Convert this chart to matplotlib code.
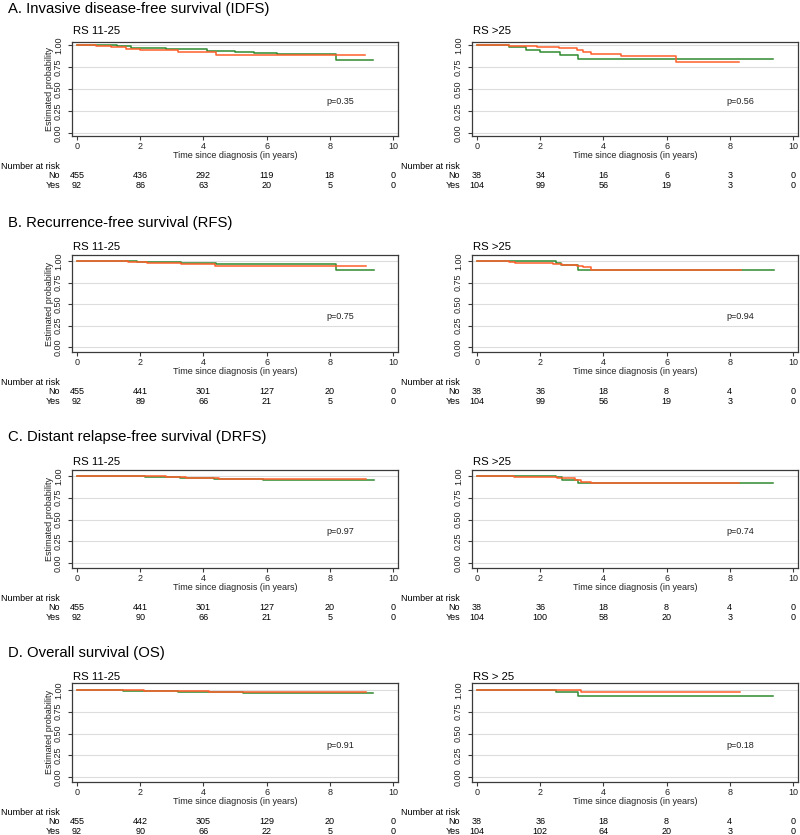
import matplotlib
matplotlib.use('Agg')
import matplotlib.pyplot as plt
from matplotlib.transforms import blended_transform_factory

plt.rcParams['font.family'] = ['Liberation Sans', 'DejaVu Sans']

# ---- data (green = No, orange = Yes) ----
risk_years = [0, 2, 4, 6, 8, 10]

# A. IDFS
idfs_lo_no_t = [0, 0.6, 1.25, 1.7, 2.8, 3.2, 4.1, 5.0, 5.6, 6.33, 8.2, 9.38]
idfs_lo_no_s = [1, 0.995, 0.985, 0.97, 0.96, 0.95, 0.935, 0.922, 0.912, 0.9, 0.835, 0.835]
idfs_lo_yes_t = [0, 0.6, 1.07, 1.55, 2.0, 3.2, 4.4, 9.13]
idfs_lo_yes_s = [1, 0.99, 0.982, 0.96, 0.948, 0.92, 0.89, 0.89]
idfs_lo_risk_no = [455, 436, 292, 119, 18, 0]
idfs_lo_risk_yes = [92, 86, 63, 20, 5, 0]
idfs_lo_p = 'p=0.35'

idfs_hi_no_t = [0, 1.02, 1.54, 2.0, 2.64, 3.18, 9.38]
idfs_hi_no_s = [1, 0.972, 0.945, 0.915, 0.89, 0.845, 0.845]
idfs_hi_yes_t = [0, 1.02, 1.9, 2.6, 3.15, 3.35, 3.6, 4.55, 6.3, 8.3]
idfs_hi_yes_s = [1, 0.985, 0.975, 0.962, 0.945, 0.925, 0.895, 0.875, 0.81, 0.81]
idfs_hi_risk_no = [38, 34, 16, 6, 3, 0]
idfs_hi_risk_yes = [104, 99, 56, 19, 3, 0]
idfs_hi_p = 'p=0.56'

# B. RFS
rfs_lo_no_t = [0, 1.9, 3.3, 4.4, 5.0, 8.2, 9.4]
rfs_lo_no_s = [1, 0.988, 0.98, 0.97, 0.96, 0.89, 0.89]
rfs_lo_yes_t = [0, 1.6, 2.2, 3.3, 4.37, 9.15]
rfs_lo_yes_s = [1, 0.988, 0.98, 0.969, 0.945, 0.945]
rfs_lo_risk_no = [455, 441, 301, 127, 20, 0]
rfs_lo_risk_yes = [92, 89, 66, 21, 5, 0]
rfs_lo_p = 'p=0.75'

rfs_hi_no_t = [0, 2.5, 2.65, 3.2, 9.4]
rfs_hi_no_s = [1, 0.98, 0.955, 0.9, 0.9]
rfs_hi_yes_t = [0, 1.0, 1.2, 2.4, 2.7, 3.15, 3.35, 3.6, 8.35]
rfs_hi_yes_s = [1, 0.988, 0.98, 0.965, 0.955, 0.945, 0.925, 0.9, 0.9]
rfs_hi_risk_no = [38, 36, 18, 8, 4, 0]
rfs_hi_risk_yes = [104, 99, 56, 19, 3, 0]
rfs_hi_p = 'p=0.94'

# C. DRFS
drfs_lo_no_t = [0, 2.15, 3.25, 4.35, 5.9, 9.4]
drfs_lo_no_s = [1, 0.985, 0.975, 0.965, 0.955, 0.955]
drfs_lo_yes_t = [0, 2.15, 2.8, 3.45, 4.5, 9.15]
drfs_lo_yes_s = [1, 0.995, 0.985, 0.975, 0.965, 0.965]
drfs_lo_risk_no = [455, 441, 301, 127, 20, 0]
drfs_lo_risk_yes = [92, 90, 66, 21, 5, 0]
drfs_lo_p = 'p=0.97'

drfs_hi_no_t = [0, 2.5, 2.68, 3.2, 9.38]
drfs_hi_no_s = [1, 0.985, 0.955, 0.915, 0.915]
drfs_hi_yes_t = [0, 1.17, 2.27, 2.54, 3.1, 3.3, 3.6, 8.3]
drfs_hi_yes_s = [1, 0.992, 0.985, 0.975, 0.955, 0.935, 0.922, 0.922]
drfs_hi_risk_no = [38, 36, 18, 8, 4, 0]
drfs_hi_risk_yes = [104, 100, 58, 20, 3, 0]
drfs_hi_p = 'p=0.74'

# D. OS
os_lo_no_t = [0, 1.47, 3.2, 5.25, 9.15, 9.38]
os_lo_no_s = [1, 0.99, 0.98, 0.97, 0.963, 0.963]
os_lo_yes_t = [0, 2.13, 4.19, 5.25, 9.15]
os_lo_yes_s = [1, 0.99, 0.98, 0.975, 0.975]
os_lo_risk_no = [455, 442, 305, 129, 20, 0]
os_lo_risk_yes = [92, 90, 66, 22, 5, 0]
os_lo_p = 'p=0.91'

os_hi_no_t = [0, 2.5, 3.2, 9.38]
os_hi_no_s = [1, 0.972, 0.935, 0.935]
os_hi_yes_t = [0, 3.3, 8.33]
os_hi_yes_s = [1, 0.981, 0.981]
os_hi_risk_no = [38, 36, 18, 8, 4, 0]
os_hi_risk_yes = [104, 102, 64, 20, 3, 0]
os_hi_p = 'p=0.18'

row_titles = ['A. Invasive disease-free survival (IDFS)',
              'B. Recurrence-free survival (RFS)',
              'C. Distant relapse-free survival (DRFS)',
              'D. Overall survival (OS)']
sub_titles = [['RS 11-25', 'RS >25'], ['RS 11-25', 'RS >25'],
              ['RS 11-25', 'RS >25'], ['RS 11-25', 'RS > 25']]

panels = [
    [(idfs_lo_no_t, idfs_lo_no_s, idfs_lo_yes_t, idfs_lo_yes_s, idfs_lo_risk_no, idfs_lo_risk_yes, idfs_lo_p),
     (idfs_hi_no_t, idfs_hi_no_s, idfs_hi_yes_t, idfs_hi_yes_s, idfs_hi_risk_no, idfs_hi_risk_yes, idfs_hi_p)],
    [(rfs_lo_no_t, rfs_lo_no_s, rfs_lo_yes_t, rfs_lo_yes_s, rfs_lo_risk_no, rfs_lo_risk_yes, rfs_lo_p),
     (rfs_hi_no_t, rfs_hi_no_s, rfs_hi_yes_t, rfs_hi_yes_s, rfs_hi_risk_no, rfs_hi_risk_yes, rfs_hi_p)],
    [(drfs_lo_no_t, drfs_lo_no_s, drfs_lo_yes_t, drfs_lo_yes_s, drfs_lo_risk_no, drfs_lo_risk_yes, drfs_lo_p),
     (drfs_hi_no_t, drfs_hi_no_s, drfs_hi_yes_t, drfs_hi_yes_s, drfs_hi_risk_no, drfs_hi_risk_yes, drfs_hi_p)],
    [(os_lo_no_t, os_lo_no_s, os_lo_yes_t, os_lo_yes_s, os_lo_risk_no, os_lo_risk_yes, os_lo_p),
     (os_hi_no_t, os_hi_no_s, os_hi_yes_t, os_hi_yes_s, os_hi_risk_no, os_hi_risk_yes, os_hi_p)],
]

# ---- layout in pixels ----
W, H = 800, 835
# title_y, sub_y, axes top, axes bottom, y of 1.00, y of 0.00
rows = [(8.5, 31, 42, 136, 45, 133),
        (223, 247, 255, 352, 261, 347),
        (437, 462, 470, 568, 476, 563),
        (653, 677, 683, 782, 690, 777)]
cols = [(0, 72, 398), (400, 472, 798)]

GREEN = '#2f8a2f'
ORANGE = '#ff5e2a'
SMALL = 6.5


def fx(px):
    return px / W


def fy(py):
    return 1 - py / H


fig = plt.figure(figsize=(8, 8.35), dpi=100)

for r, (title_y, sub_y, top, bot, y1, y0) in enumerate(rows):
    fig.text(fx(8), fy(title_y), row_titles[r], fontsize=10.7, va='center', ha='left')
    for c, (x0, left, right) in enumerate(cols):
        no_t, no_s, yes_t, yes_s, risk_no, risk_yes, ptxt = panels[r][c]
        ax = fig.add_axes([fx(left), fy(bot), (right - left) / W, (bot - top) / H])
        ax.step(no_t, no_s, where='post', color=GREEN, lw=1.1)
        ax.step(yes_t, yes_s, where='post', color=ORANGE, lw=1.1)

        ppu = y0 - y1
        ax.set_ylim(-(bot - y0) / ppu, 1 + (y1 - top) / ppu)
        ax.set_xlim(-0.16, 10.16)
        ax.set_xticks(risk_years)
        ax.set_yticks([0, 0.25, 0.5, 0.75, 1.0])
        ax.set_yticklabels(['0.00', '0.25', '0.50', '0.75', '1.00'])
        ax.grid(axis='y', color='#dcdcdc', lw=0.8)
        ax.set_axisbelow(True)
        for sp in ax.spines.values():
            sp.set_color('#3a3a3a')
            sp.set_linewidth(0.9)
        ax.tick_params(axis='both', direction='out', length=3, width=0.8,
                       color='#3a3a3a', labelsize=SMALL, labelcolor='#222222')
        ax.tick_params(axis='x', pad=1.2)
        ax.tick_params(axis='y', pad=3.5, labelrotation=90)
        for lbl in ax.get_yticklabels():
            lbl.set_va('center')

        ax.text(7.9, 0.36, ptxt, fontsize=SMALL, va='center', ha='left', color='#222222')

        fig.text(fx(left + 1), fy(sub_y), sub_titles[r][c], fontsize=8.2, va='center', ha='left')
        fig.text(fx((left + right) / 2), fy(bot + 19.5), 'Time since diagnosis (in years)',
                 fontsize=SMALL, ha='center', va='center', color='#222222')
        if c == 0:
            fig.text(fx(50), fy((top + bot) / 2), 'Estimated probability', rotation=90,
                     fontsize=SMALL, ha='center', va='center', color='#222222')

        # number at risk table
        tr = blended_transform_factory(ax.transData, fig.transFigure)
        fig.text(fx(x0 + 1), fy(bot + 30.5), 'Number at risk', fontsize=SMALL, ha='left', va='center')
        fig.text(fx(x0 + 60), fy(bot + 40), 'No', fontsize=SMALL, ha='right', va='center')
        fig.text(fx(x0 + 60), fy(bot + 49), 'Yes', fontsize=SMALL, ha='right', va='center')
        for yr, n_no, n_yes in zip(risk_years, risk_no, risk_yes):
            ax.text(yr, fy(bot + 40), str(n_no), transform=tr, fontsize=SMALL,
                    ha='center', va='center', clip_on=False)
            ax.text(yr, fy(bot + 49), str(n_yes), transform=tr, fontsize=SMALL,
                    ha='center', va='center', clip_on=False)

fig.savefig('out.png', dpi=100, facecolor='white')
plt.close('all')
